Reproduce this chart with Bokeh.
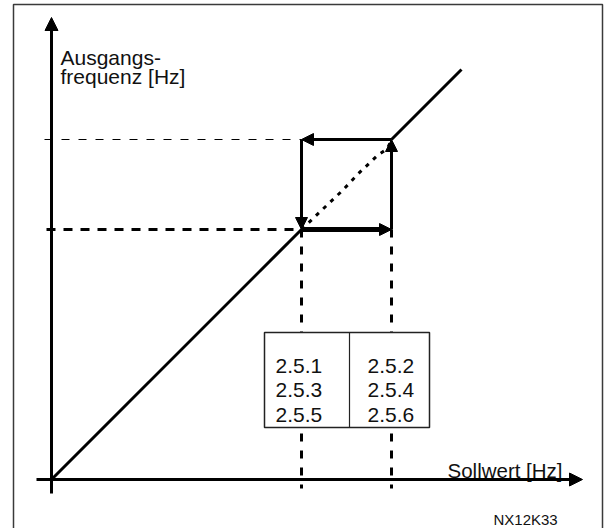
from bokeh.plotting import figure
from bokeh.models import Range1d, Arrow, NormalHead
from bokeh.core.properties import value
from bokeh.embed import file_html
from bokeh.resources import INLINE

# --- data (abstract Hz-like units) ---
f_low = 25.0          # lower switching reference / output
f_high = 34.0         # upper switching reference / output
diag_end = 41.0       # end of the characteristic line
x_axis_span = [-1.5, 53.1]
y_axis_span = [-1.4, 46.2]
dotted_x = [25.0, 27.2, 29.1, 30.7, 32.6, 33.6, 34.0]
dotted_y = [25.0, 27.1, 28.9, 30.6, 32.4, 33.1, 34.0]
dash_low_end = -0.9
hline_high_start = -0.7
hline_low_start = -0.5
table_left, table_mid, table_right = 21.3, 29.8, 37.8
table_bottom, table_top = 5.2, 14.7
left_col = ["2.5.1", "2.5.3", "2.5.5"]
right_col = ["2.5.2", "2.5.4", "2.5.6"]
row_y = [11.4, 9.0, 6.5]
left_col_x = 22.4
right_col_x = 31.6
y_label = ["Ausgangs-", "frequenz [Hz]"]
y_label_pos = [(0.9, 42.2), (0.9, 40.3)]
x_label = "Sollwert [Hz]"
x_label_pos = (39.6, 0.9)
code_label = "NX12K33"
code_label_pos = (44.2, -4.0)
frame = dict(left=-3.8, right=55.1, top=47.5, bottom=-6.0)

FONT = value("Liberation Sans")

p = figure(width=604, height=528, output_backend="svg", toolbar_location=None,
           x_axis_type=None, y_axis_type=None,
           x_range=Range1d(-5.1, 55.3), y_range=Range1d(-4.9, 47.9),
           min_border=0)
p.outline_line_color = None
p.grid.visible = False
p.background_fill_color = "white"
p.border_fill_color = "white"

# outer frame
p.quad(left=[frame["left"]], right=[frame["right"]], top=[frame["top"]],
       bottom=[frame["bottom"]], fill_alpha=0, line_color="#3a3a3a", line_width=1.5)

# dashed guide lines
p.segment(x0=[hline_high_start], y0=[f_high], x1=[f_low], y1=[f_high],
          line_color="black", line_width=1, line_dash="8 9")
p.segment(x0=[hline_low_start], y0=[f_low], x1=[f_low], y1=[f_low],
          line_color="black", line_width=3, line_dash="9 8")
p.segment(x0=[f_low, f_high], y0=[f_low, f_low], x1=[f_low, f_high],
          y1=[dash_low_end, dash_low_end],
          line_color="black", line_width=3, line_dash="8 9")

# characteristic line
p.line([0, f_low], [0, f_low], line_color="black", line_width=3)
p.line([f_high, diag_end], [f_high, diag_end], line_color="black", line_width=3)
p.line(dotted_x, dotted_y, line_color="black", line_width=3, line_dash="4 6")

# axes with arrows
p.add_layout(Arrow(end=NormalHead(size=13, fill_color="black", line_color="black"),
                   x_start=x_axis_span[0], y_start=0, x_end=x_axis_span[1], y_end=0,
                   line_width=3, line_color="black"))
p.add_layout(Arrow(end=NormalHead(size=13, fill_color="black", line_color="black"),
                   x_start=0, y_start=y_axis_span[0], x_end=0, y_end=y_axis_span[1],
                   line_width=3, line_color="black"))

# hysteresis arrows
def harrow(xs, ys, xe, ye, lw):
    p.add_layout(Arrow(end=NormalHead(size=12, fill_color="black", line_color="black"),
                       x_start=xs, y_start=ys, x_end=xe, y_end=ye,
                       line_width=lw, line_color="black"))

harrow(f_low, f_low, f_high, f_low, 5)     # bottom, rightwards
harrow(f_high, f_low, f_high, f_high, 3)   # right, upwards
harrow(f_high, f_high, f_low, f_high, 3)   # top, leftwards
harrow(f_low, f_high, f_low, f_low, 3)     # left, downwards

# parameter table
p.quad(left=[table_left], right=[table_right], top=[table_top], bottom=[table_bottom],
       fill_color="white", line_color="#222222", line_width=1.5)
p.segment(x0=[table_mid], y0=[table_bottom], x1=[table_mid], y1=[table_top],
          line_color="#222222", line_width=1.2)
p.text(x=[left_col_x] * 3, y=row_y, text=left_col, text_font=FONT,
       text_font_size="21px", text_baseline="alphabetic", text_color="#111111")
p.text(x=[right_col_x] * 3, y=row_y, text=right_col, text_font=FONT,
       text_font_size="21px", text_baseline="alphabetic", text_color="#111111")

# labels
p.text(x=[q[0] for q in y_label_pos], y=[q[1] for q in y_label_pos], text=y_label,
       text_font=FONT, text_font_size="21px", text_baseline="alphabetic",
       text_color="#111111")
p.text(x=[x_label_pos[0]], y=[x_label_pos[1]], text=[x_label], text_font=FONT,
       text_font_size="20.5px", text_baseline="alphabetic", text_color="#111111")
p.text(x=[code_label_pos[0]], y=[code_label_pos[1]], text=[code_label], text_font=FONT,
       text_font_size="15px", text_baseline="alphabetic", text_color="#111111")

open("out.html", "w").write(file_html(p, INLINE))
